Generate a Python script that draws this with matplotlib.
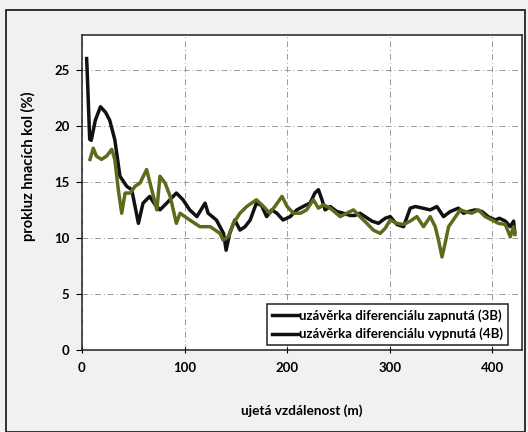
import matplotlib
matplotlib.use('Agg')
import matplotlib.pyplot as plt
from matplotlib.patches import Rectangle

plt.rc('font', family=['Lato', 'DejaVu Sans'], weight='bold')

# distance (m) and slip (%) - lock on (3B)
dist_3b = [4.5, 5, 7.5, 9, 13, 18, 23, 27, 32, 37, 43.6, 48.5, 55, 59.5, 66, 71, 76, 82.6, 92, 98.5,
           105, 112, 120, 123, 131, 138, 140.5, 144, 149, 154, 159, 164, 170, 175, 180, 185, 190, 196,
           203, 209.5, 217.6, 222.4, 227, 230.5, 234, 237, 242, 248.5, 255, 261.5, 266, 271, 276,
           282.6, 289, 295.6, 300.5, 307, 313.5, 320, 325, 330, 339.5, 346, 352.5, 359, 367, 372,
           377, 383.4, 390, 396, 403, 407, 412.7, 417.6, 420.8, 422]
slip_3b = [26, 25, 18.8, 18.7, 20.5, 21.7, 21.2, 20.5, 18.75, 15.5, 14.6, 14.3, 11.3, 13.1, 13.7, 13.0,
           12.5, 13.1, 14.0, 13.4, 12.5, 11.9, 13.1, 12.2, 11.6, 10.4, 8.9, 10.4, 11.6, 10.7, 11.0, 11.6,
           13.1, 12.9, 11.9, 12.5, 12.2, 11.6, 11.9, 12.5, 12.9, 13.1, 14.0, 14.3, 13.4, 12.5, 12.8,
           12.35, 12.2, 12.0, 12.0, 12.2, 11.9, 11.5, 11.3, 11.75, 11.9, 11.2, 11.0, 12.65, 12.8, 12.7,
           12.5, 12.8, 11.9, 12.35, 12.65, 12.2, 12.35, 12.5, 12.35, 11.9, 11.6, 11.75, 11.5, 11.0,
           11.5, 10.5]

# lock off (4B)
dist_4b = [7.8, 11, 14, 19, 24, 29, 32, 35.4, 38.7, 42, 47, 51.7, 56.6, 63, 68, 73, 76, 81, 86, 92,
           95.6, 105, 115, 125, 134.6, 137.6, 142.6, 147.6, 154, 160.6, 170, 177, 183, 188, 195, 200,
           206, 213, 219, 225.6, 230.5, 235.4, 242, 251.7, 258, 264.7, 271, 277.7, 284, 290.7, 295.6,
           300.5, 307, 313.5, 320, 326.5, 333, 339.5, 344.4, 347.6, 351, 354, 357.4, 362, 368.8,
           373.7, 380, 386.6, 393, 399.7, 406, 412.7, 417.6, 420.8, 422]
slip_4b = [17, 18, 17.3, 17, 17.3, 17.9, 17, 14.3, 12.2, 14, 14, 14.6, 14.9, 16.1, 14.3, 12.5, 15.5,
           14.9, 13.7, 11.3, 12.2, 11.6, 11.0, 11.0, 10.4, 9.8, 10.1, 11.3, 12.2, 12.8, 13.4, 12.8,
           12.2, 12.8, 13.7, 12.8, 12.2, 12.2, 12.5, 13.4, 12.65, 12.95, 12.65, 11.9, 12.2, 12.5,
           11.9, 11.3, 10.7, 10.4, 10.85, 11.6, 11.3, 11.2, 11.5, 11.9, 11.0, 11.9, 11.0, 9.8, 8.3,
           9.5, 11.0, 11.6, 12.5, 12.35, 12.2, 12.5, 11.9, 11.6, 11.3, 11.2, 10.1, 11.0, 10.3]

labels = ['uzávěrka diferenciálu zapnutá (3B)', 'uzávěrka diferenciálu vypnutá (4B)']
x_ticks = [0, 100, 200, 300, 400]
y_ticks = [0, 5, 10, 15, 20, 25]

fig = plt.figure(figsize=(5.28, 4.32), dpi=100, facecolor='#f0f1f3')
ax = fig.add_axes([82 / 528, 82 / 432, 440 / 528, 315 / 432])
ax.set_facecolor('white')

# outer chart frame
fig.patches.append(Rectangle((6 / 528, 0.0), 519 / 528, 1 - 10 / 432, transform=fig.transFigure,
                             fill=False, edgecolor='#222222', linewidth=1.3))

ax.plot(dist_3b, slip_3b, color='#111111', lw=2.5, label=labels[0], zorder=3)
ax.plot(dist_4b, slip_4b, color='#5e6b1d', lw=2.5, label=labels[1], zorder=3)

ax.set_xlim(0, 429)
ax.set_ylim(0, 28.1)
ax.set_xticks(x_ticks)
ax.set_yticks(y_ticks)
ax.grid(True, color='#9a9a9a', linestyle=(0, (6, 3, 1, 3)), linewidth=0.7)
ax.set_axisbelow(True)
ax.tick_params(axis='x', direction='inout', length=5, labelsize=9.5, pad=6)
ax.tick_params(axis='y', direction='out', length=4, labelsize=9.5, pad=5)
for lab in ax.get_xticklabels() + ax.get_yticklabels():
    lab.set_fontweight('bold')
for s in ax.spines.values():
    s.set_color('#222222')
    s.set_linewidth(1.1)

ax.set_xlabel('ujetá vzdálenost (m)', fontsize=9.8, fontweight='bold')
ax.set_ylabel('prokluz hnacích kol (%)', fontsize=10.5, fontweight='bold')
ax.xaxis.set_label_coords(0.5, -0.171)
ax.yaxis.set_label_coords(-0.105, 0.584)

leg = ax.legend(loc='lower right', bbox_to_anchor=(0.968, 0.016), borderaxespad=0,
                fancybox=False, edgecolor='#222222', framealpha=1, fontsize=9.5,
                handlelength=2.0, handletextpad=0.1, borderpad=0.35, labelspacing=0.45)
leg.get_frame().set_linewidth(1.1)
for t in leg.get_texts():
    t.set_fontweight('bold')
for h in leg.legend_handles:
    h.set_color('#111111')

fig.savefig('out.png', dpi=100, facecolor=fig.get_facecolor())
